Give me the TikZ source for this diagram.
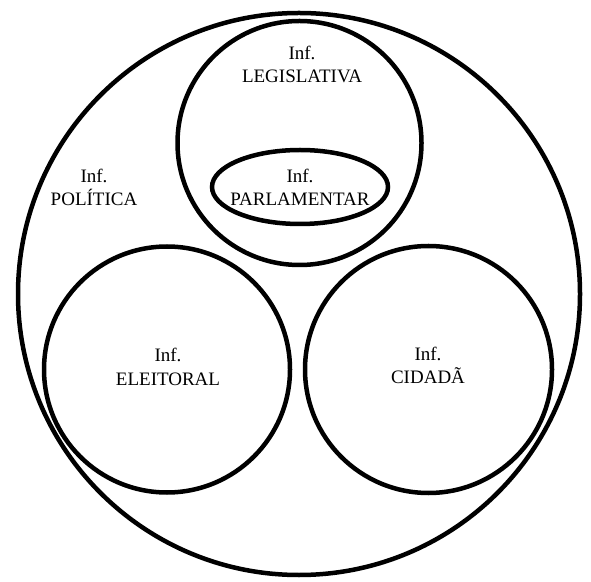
\documentclass[tikz,border=0pt]{standalone}
\usepackage{fontspec}
\setmainfont{Liberation Serif}
\usetikzlibrary{shapes.geometric}
\begin{document}
\begin{tikzpicture}[
x=1pt, y=1pt,
ring/.style={circle, draw, line width=4.5pt, inner sep=0pt},
lbl/.style={align=center, inner sep=0pt, font=\fontsize{19}{23.5}\selectfont},
]
  \useasboundingbox (0,0) rectangle (591,581);
  \node[ring, minimum size=562pt] (politica) at (299,287) {};
  \node[ring, minimum size=244pt] (legislativa) at (299.5,438) {};
  \node[ellipse, draw, line width=4.5pt, inner sep=0pt,
        minimum width=176pt, minimum height=74pt] (parlamentar) at (300,394) {};
  \node[ring, minimum size=246pt] (eleitoral) at (167,211.5) {};
  \node[ring, minimum size=247pt] (cidada) at (428.5,211.5) {};
  % labels
  \node[lbl] (tpolitica) at (94,393.5) {Inf.\\POLÍTICA};
  \node[lbl] (tlegislativa) at (302,516.5) {Inf.\\LEGISLATIVA};
  \node[lbl] (tparlamentar) at (300,393.5) {Inf.\\PARLAMENTAR};
  \node[lbl] (teleitoral) at (168,214) {Inf.\\ELEITORAL};
  \node[lbl] (tcidada) at (428,215.5) {Inf.\\CIDADÃ};
\end{tikzpicture}
\end{document}
